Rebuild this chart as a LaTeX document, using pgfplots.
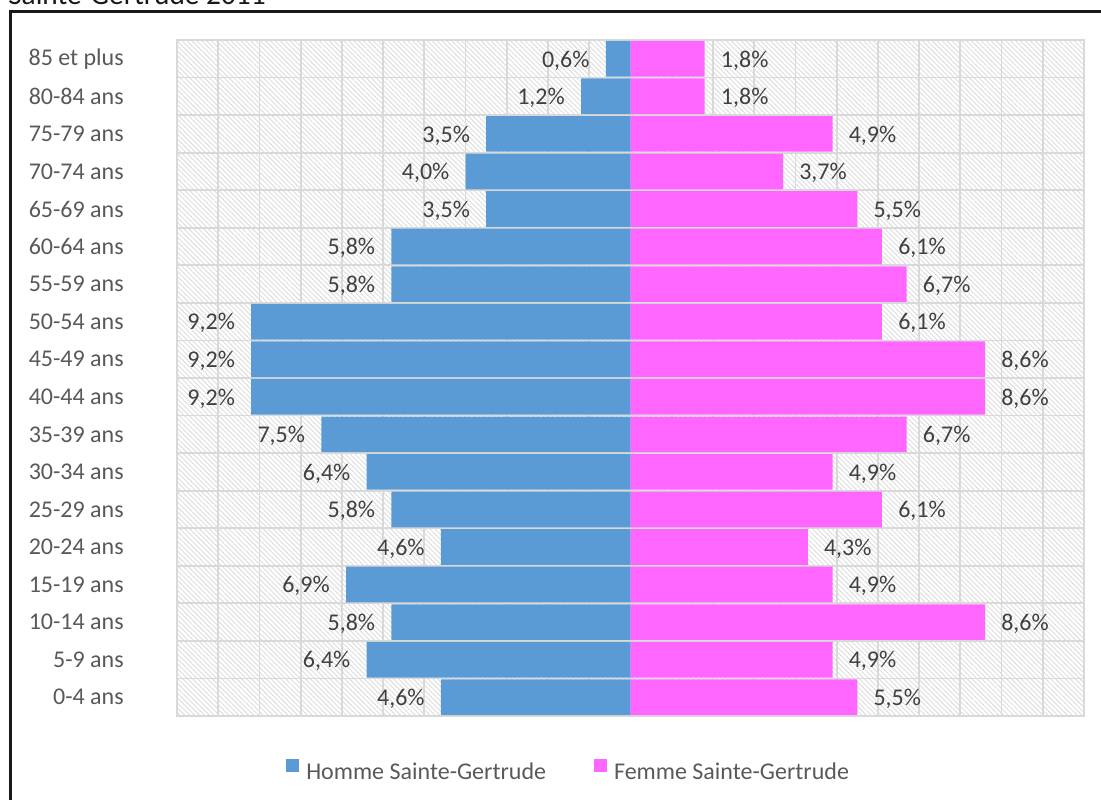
\documentclass[border=0pt]{standalone}
\usepackage{fontspec}
\setmainfont{Carlito}
\usepackage{pgfplots}
\pgfplotsset{compat=1.18}
\usepackage{pgfplotstable}
\usetikzlibrary{patterns.meta}
\definecolor{male}{HTML}{5B9BD5}
\definecolor{female}{HTML}{FF66FF}
\definecolor{gridc}{HTML}{D9D9D9}
\definecolor{hatchc}{HTML}{DDDDDD}
\definecolor{txt}{HTML}{595959}
\definecolor{lbl}{HTML}{404040}
\pgfplotsset{sqlegend/.style={legend image code/.code={\fill[##1] (0pt,0pt) rectangle (9.75pt,9.75pt);}}}
\pgfplotstableread{
i m f
0 4.6 5.5
1 6.4 4.9
2 5.8 8.6
3 6.9 4.9
4 4.6 4.3
5 5.8 6.1
6 6.4 4.9
7 7.5 6.7
8 9.2 8.6
9 9.2 8.6
10 9.2 6.1
11 5.8 6.7
12 5.8 6.1
13 3.5 5.5
14 4.0 3.7
15 3.5 4.9
16 1.2 1.8
17 0.6 1.8
}\data
\begin{document}
\begin{tikzpicture}
\useasboundingbox (0pt,0pt) rectangle (825.75pt,-600pt);
\draw[line width=1.6pt, black!90] (7.9pt,-650pt) -- (7.9pt,-8.6pt) -- (860pt,-8.6pt);
\node[anchor=base west, inner sep=0pt, font=\fontsize{22}{26}\selectfont, text=black!90] at (6pt,-3pt) {Sainte-Gertrude 2011};
\begin{axis}[
  at={(132.75pt,-537pt)}, anchor=south west,
  scale only axis, width=680.25pt, height=507pt,
  xbar, bar shift=0pt, bar width=0.95,
  xmin=-11, xmax=11, ymin=-0.5, ymax=17.5,
  xtick={-11,...,11}, xticklabels={},
  ytick={0,...,17},
  yticklabels={0-4 ans,5-9 ans,10-14 ans,15-19 ans,20-24 ans,25-29 ans,30-34 ans,35-39 ans,40-44 ans,45-49 ans,50-54 ans,55-59 ans,60-64 ans,65-69 ans,70-74 ans,75-79 ans,80-84 ans,85 et plus},
  minor ytick={-0.5,0.5,...,17.5},
  xmajorgrids, yminorgrids, ymajorgrids=false,
  grid style={draw=gridc, line width=1.3pt},
  minor grid style={draw=gridc, line width=1.3pt},
  major tick length=0pt, minor tick length=0pt,
  axis line style={draw=gridc, line width=1.3pt},
  yticklabel style={font=\fontsize{18}{21}\selectfont, text=txt, anchor=east, inner sep=0pt, xshift=-39.75pt},
  axis background/.style={pattern={Lines[angle=-45,distance=2.6pt,line width=0.7pt]}, pattern color=hatchc},
  /pgf/number format/fixed, /pgf/number format/fixed zerofill,
  /pgf/number format/precision=1, /pgf/number format/use comma,
  /pgf/number format/assume math mode=true,
  point meta=explicit,
  nodes near coords={\pgfmathprintnumber{\pgfplotspointmeta}\%},
  every node near coord/.append style={font=\fontsize{18}{21}\selectfont, text=lbl, inner sep=0pt, yshift=-1.2pt},
  legend style={at={(0.1202,-0.0799)}, anchor=west, draw=none, fill=none, inner sep=0pt,
    legend columns=2, font=\fontsize{18}{21}\selectfont, text=txt, nodes={inner sep=0pt},
    /tikz/every odd column/.append style={column sep=5.25pt},
    /tikz/every even column/.append style={column sep=36pt}},
  legend cell align=left,
]
\addplot[fill=male, draw=none, sqlegend, nodes near coords style={anchor=east, xshift=-12pt}]
  table[x expr=-\thisrow{m}, y=i, meta=m] {\data};
\addlegendentry{Homme Sainte-Gertrude}
\addplot[fill=female, draw=none, sqlegend, nodes near coords style={anchor=west, xshift=12pt}]
  table[x=f, y=i, meta=f] {\data};
\addlegendentry{Femme Sainte-Gertrude}
\end{axis}
\end{tikzpicture}
\end{document}
